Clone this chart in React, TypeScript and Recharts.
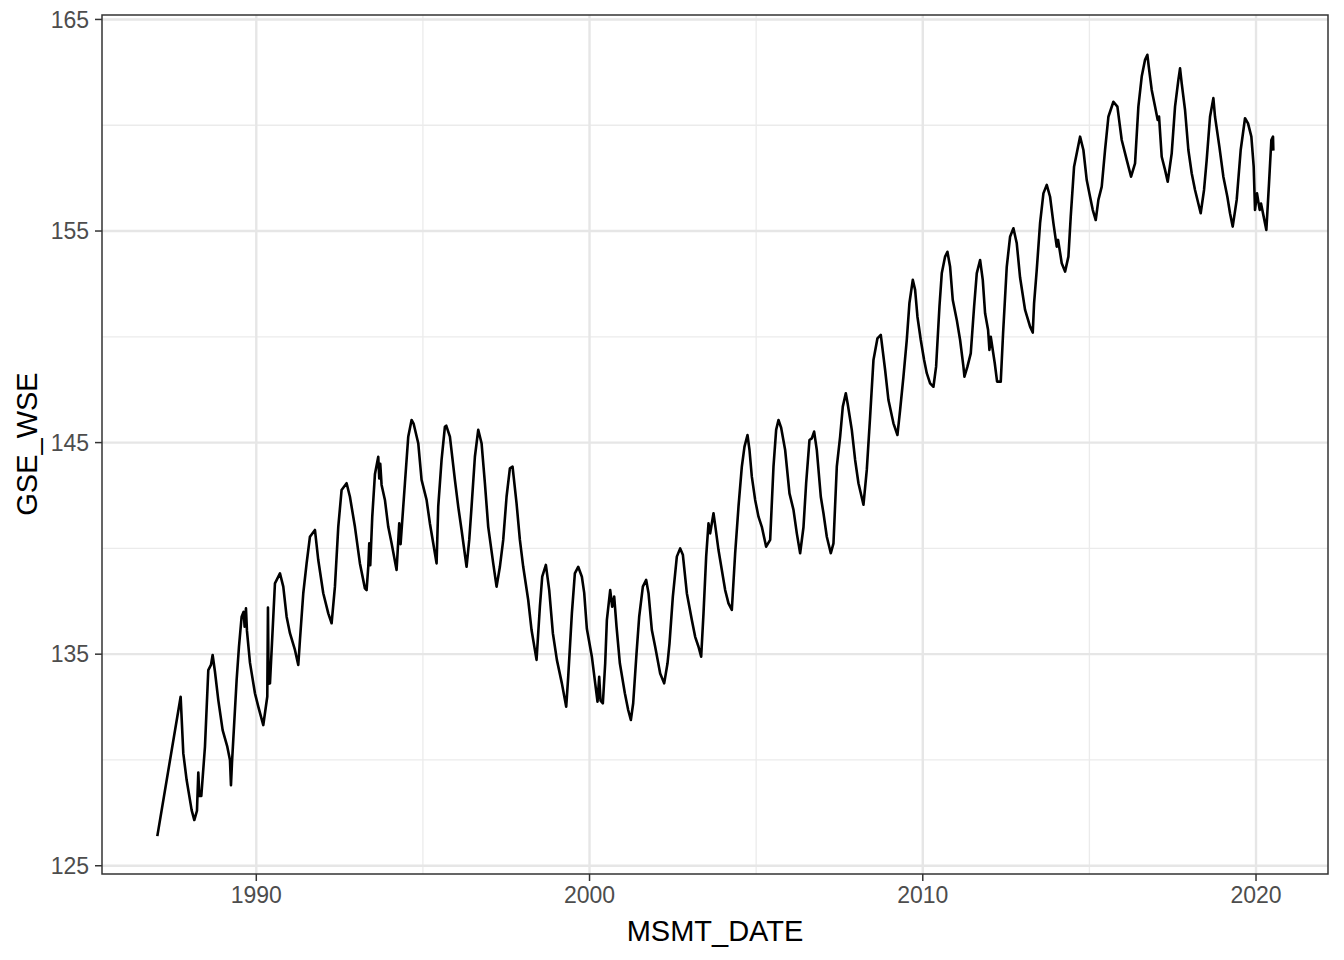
import React from 'react';
import { LineChart, Line, XAxis, YAxis, CartesianGrid, ReferenceArea } from 'recharts';

// decimal year of each measurement
const msmtDate = [
  1987.03, 1987.73, 1987.81, 1987.91, 1988.06, 1988.14, 1988.22, 1988.26, 1988.29, 1988.35,
  1988.46, 1988.56, 1988.64, 1988.69, 1988.76, 1988.86, 1988.99, 1989.13, 1989.21, 1989.24,
  1989.27, 1989.41, 1989.48, 1989.56, 1989.62, 1989.65, 1989.69, 1989.72, 1989.81, 1989.96,
  1990.06, 1990.21, 1990.33, 1990.35, 1990.37, 1990.41, 1990.47, 1990.56, 1990.71, 1990.81,
  1990.91, 1991.01, 1991.16, 1991.26, 1991.31, 1991.41, 1991.51, 1991.61, 1991.76, 1991.86,
  1992.01, 1992.16, 1992.26, 1992.36, 1992.46, 1992.56, 1992.71, 1992.81, 1992.96, 1993.11,
  1993.26, 1993.31, 1993.36, 1993.39, 1993.42, 1993.48, 1993.56, 1993.66, 1993.69, 1993.72,
  1993.76, 1993.86, 1993.96, 1994.06, 1994.21, 1994.29, 1994.33, 1994.46, 1994.56, 1994.66,
  1994.72, 1994.86, 1994.96, 1995.11, 1995.21, 1995.31, 1995.41, 1995.46, 1995.56, 1995.66,
  1995.70, 1995.81, 1995.96, 1996.06, 1996.16, 1996.31, 1996.39, 1996.46, 1996.56, 1996.66,
  1996.76, 1996.86, 1996.96, 1997.11, 1997.21, 1997.31, 1997.41, 1997.51, 1997.61, 1997.69,
  1997.81, 1997.91, 1998.01, 1998.16, 1998.26, 1998.41, 1998.51, 1998.58, 1998.69, 1998.79,
  1998.90, 1999.02, 1999.17, 1999.30, 1999.36, 1999.47, 1999.56, 1999.66, 1999.77, 1999.84,
  1999.92, 2000.07, 2000.17, 2000.24, 2000.29, 2000.33, 2000.40, 2000.47, 2000.52, 2000.62,
  2000.68, 2000.74, 2000.81, 2000.91, 2001.06, 2001.16, 2001.24, 2001.31, 2001.41, 2001.49,
  2001.60, 2001.70, 2001.77, 2001.87, 2001.97, 2002.12, 2002.24, 2002.34, 2002.40, 2002.50,
  2002.62, 2002.72, 2002.80, 2002.92, 2003.07, 2003.17, 2003.27, 2003.35, 2003.42, 2003.50,
  2003.57, 2003.62, 2003.72, 2003.77, 2003.87, 2003.97, 2004.07, 2004.17, 2004.27, 2004.37,
  2004.47, 2004.57, 2004.65, 2004.74, 2004.80, 2004.87, 2004.97, 2005.07, 2005.17, 2005.30,
  2005.42, 2005.52, 2005.60, 2005.67, 2005.75, 2005.87, 2006.00, 2006.12, 2006.22, 2006.32,
  2006.42, 2006.50, 2006.60, 2006.67, 2006.74, 2006.82, 2006.94, 2007.02, 2007.12, 2007.24,
  2007.32, 2007.42, 2007.52, 2007.60, 2007.69, 2007.75, 2007.87, 2007.97, 2008.07, 2008.22,
  2008.32, 2008.42, 2008.52, 2008.64, 2008.74, 2008.87, 2008.97, 2009.12, 2009.24, 2009.32,
  2009.42, 2009.52, 2009.60, 2009.70, 2009.77, 2009.84, 2009.94, 2010.04, 2010.12, 2010.22,
  2010.32, 2010.40, 2010.50, 2010.57, 2010.67, 2010.74, 2010.82, 2010.90, 2011.02, 2011.12,
  2011.22, 2011.25, 2011.34, 2011.44, 2011.54, 2011.62, 2011.72, 2011.80, 2011.87, 2011.96,
  2012.00, 2012.04, 2012.16, 2012.23, 2012.34, 2012.41, 2012.52, 2012.62, 2012.72, 2012.82,
  2012.92, 2013.07, 2013.22, 2013.30, 2013.34, 2013.42, 2013.52, 2013.62, 2013.72, 2013.82,
  2013.92, 2014.02, 2014.06, 2014.17, 2014.27, 2014.37, 2014.44, 2014.54, 2014.64, 2014.72,
  2014.82, 2014.92, 2015.02, 2015.10, 2015.19, 2015.27, 2015.37, 2015.47, 2015.57, 2015.72,
  2015.84, 2015.97, 2016.12, 2016.25, 2016.37, 2016.47, 2016.57, 2016.67, 2016.74, 2016.78,
  2016.87, 2016.97, 2017.05, 2017.09, 2017.17, 2017.27, 2017.35, 2017.47, 2017.57, 2017.67,
  2017.72, 2017.77, 2017.87, 2017.97, 2018.07, 2018.17, 2018.34, 2018.44, 2018.52, 2018.62,
  2018.72, 2018.77, 2018.90, 2019.02, 2019.14, 2019.22, 2019.30, 2019.42, 2019.54, 2019.67,
  2019.76, 2019.86, 2019.93, 2019.97, 2020.03, 2020.11, 2020.15, 2020.23, 2020.31, 2020.39,
  2020.46, 2020.51, 2020.52,
];

const gseWse = [
  126.40, 132.99, 130.31, 129.05, 127.63, 127.16, 127.60, 129.40, 128.30, 128.30,
  130.63, 134.25, 134.49, 134.96, 134.17, 132.83, 131.41, 130.63, 130.00, 128.81,
  129.85, 133.78, 135.35, 136.77, 137.00, 136.30, 137.17, 136.10, 134.60, 133.15,
  132.52, 131.65, 133.00, 137.20, 133.60, 133.62, 135.50, 138.35, 138.82, 138.19,
  136.77, 135.99, 135.20, 134.49, 135.67, 137.88, 139.29, 140.55, 140.87, 139.45,
  137.88, 136.93, 136.46, 138.19, 141.02, 142.76, 143.08, 142.44, 141.02, 139.29,
  138.11, 138.03, 139.13, 140.24, 139.20, 141.50, 143.50, 144.33, 143.30, 144.00,
  143.00, 142.29, 141.02, 140.24, 138.98, 141.18, 140.20, 143.08, 145.28, 146.07,
  145.90, 144.97, 143.24, 142.29, 141.18, 140.24, 139.29, 141.97, 144.18, 145.75,
  145.80, 145.28, 143.24, 141.97, 140.87, 139.13, 140.40, 141.97, 144.33, 145.60,
  144.97, 143.08, 141.02, 139.29, 138.19, 139.13, 140.40, 142.44, 143.78, 143.86,
  142.13, 140.40, 139.13, 137.56, 136.14, 134.73, 137.24, 138.66, 139.22, 138.03,
  135.99, 134.73, 133.62, 132.52, 133.93, 136.93, 138.82, 139.13, 138.66, 137.90,
  136.20, 134.88, 133.62, 132.75, 133.93, 132.80, 132.68, 134.57, 136.61, 138.03,
  137.24, 137.72, 136.30, 134.57, 133.15, 132.36, 131.89, 132.68, 135.04, 136.77,
  138.19, 138.51, 137.88, 136.14, 135.35, 134.09, 133.62, 134.57, 135.51, 137.72,
  139.61, 140.00, 139.70, 137.88, 136.61, 135.82, 135.35, 134.88, 136.93, 139.61,
  141.18, 140.71, 141.66, 141.10, 139.92, 138.98, 138.03, 137.40, 137.09, 139.77,
  141.97, 143.86, 144.81, 145.36, 144.65, 143.39, 142.29, 141.50, 141.02, 140.08,
  140.40, 143.86, 145.60, 146.07, 145.70, 144.65, 142.60, 141.82, 140.71, 139.77,
  141.00, 143.08, 145.12, 145.20, 145.52, 144.65, 142.44, 141.66, 140.55, 139.77,
  140.24, 143.86, 145.28, 146.70, 147.33, 146.80, 145.60, 144.18, 143.08, 142.06,
  143.71, 146.23, 148.90, 149.93, 150.09, 148.43, 147.01, 145.91, 145.36, 146.54,
  148.12, 149.85, 151.60, 152.69, 152.22, 150.95, 149.85, 148.90, 148.28, 147.80,
  147.64, 148.59, 151.42, 153.00, 153.79, 154.02, 153.31, 151.74, 150.80, 149.85,
  148.59, 148.12, 148.59, 149.22, 151.42, 153.00, 153.63, 152.69, 151.11, 150.32,
  149.38, 150.00, 148.75, 147.88, 147.88, 150.17, 153.31, 154.73, 155.13, 154.42,
  152.80, 151.27, 150.48, 150.20, 151.58, 153.16, 155.37, 156.78, 157.18, 156.62,
  155.37, 154.26, 154.58, 153.48, 153.08, 153.79, 155.68, 158.04, 158.83, 159.46,
  158.83, 157.41, 156.62, 156.00, 155.52, 156.47, 157.10, 158.83, 160.40, 161.11,
  160.88, 159.30, 158.36, 157.57, 158.20, 160.88, 162.30, 163.09, 163.33, 162.78,
  161.67, 160.88, 160.25, 160.41, 158.51, 157.89, 157.33, 158.67, 160.88, 162.14,
  162.69, 161.98, 160.72, 158.83, 157.73, 156.94, 155.84, 156.94, 158.36, 160.40,
  161.28, 160.40, 158.99, 157.57, 156.62, 155.84, 155.21, 156.47, 158.83, 160.33,
  160.09, 159.46, 158.04, 156.00, 156.78, 156.00, 156.30, 155.68, 155.05, 157.25,
  159.30, 159.46, 158.80,
];

const xTicks = [1990, 2000, 2010, 2020];
const xMinor = [1995, 2005, 2015];
const yTicks = [125, 135, 145, 155, 165];
const yMinor = [130, 140, 150, 160];

const X_DOMAIN: [number, number] = [1985.37, 2022.16];
const Y_DOMAIN: [number, number] = [124.61, 165.21];

const data = msmtDate.map((d, i) => ({ date: d, value: gseWse[i] }));

const FONT = '"Liberation Sans", Arial, Helvetica, sans-serif';
const tickStyle = { fill: '#4D4D4D', fontSize: 23, fontFamily: FONT };

export default function App() {
  return (
    <div style={{ position: 'absolute', left: 0, top: 0, width: 1344, height: 960, background: '#fff' }}>
      <LineChart width={1344} height={960} data={data} margin={{ top: 15, right: 16, bottom: 46, left: 0 }}>
        {/* minor grid, thin */}
        <CartesianGrid
          horizontalValues={yMinor}
          verticalValues={xMinor}
          stroke="#EBEBEB"
          strokeWidth={1.3}
        />
        {/* major grid */}
        <CartesianGrid
          horizontalValues={yTicks}
          verticalValues={xTicks}
          stroke="#E6E6E6"
          strokeWidth={2.4}
        />
        <XAxis
          dataKey="date"
          type="number"
          domain={X_DOMAIN}
          ticks={xTicks}
          allowDataOverflow
          axisLine={false}
          tickLine={{ stroke: '#333333', strokeWidth: 1.5 }}
          tickSize={7}
          tickMargin={6}
          tick={tickStyle}
          height={40}
        />
        <YAxis
          type="number"
          domain={Y_DOMAIN}
          ticks={yTicks}
          allowDataOverflow
          axisLine={false}
          tickLine={{ stroke: '#333333', strokeWidth: 1.5 }}
          tickSize={7}
          tickMargin={6}
          tick={tickStyle}
          width={102}
        />
        <Line
          type="linear"
          dataKey="value"
          stroke="#000000"
          strokeWidth={2.6}
          strokeLinejoin="round"
          dot={false}
          activeDot={false}
          isAnimationActive={false}
        />
        <ReferenceArea
          x1={X_DOMAIN[0]}
          x2={X_DOMAIN[1]}
          y1={Y_DOMAIN[0]}
          y2={Y_DOMAIN[1]}
          fill="none"
          stroke="#333333"
          strokeWidth={1.5}
        />
      </LineChart>
      <div
        style={{
          position: 'absolute',
          left: 715,
          top: 931,
          transform: 'translate(-50%, -50%)',
          fontFamily: FONT,
          fontSize: 29,
          color: '#000',
          whiteSpace: 'nowrap',
        }}
      >
        MSMT_DATE
      </div>
      <div
        style={{
          position: 'absolute',
          left: 27,
          top: 444,
          transform: 'translate(-50%, -50%) rotate(-90deg)',
          fontFamily: FONT,
          fontSize: 29,
          color: '#000',
          whiteSpace: 'nowrap',
        }}
      >
        GSE_WSE
      </div>
    </div>
  );
}
